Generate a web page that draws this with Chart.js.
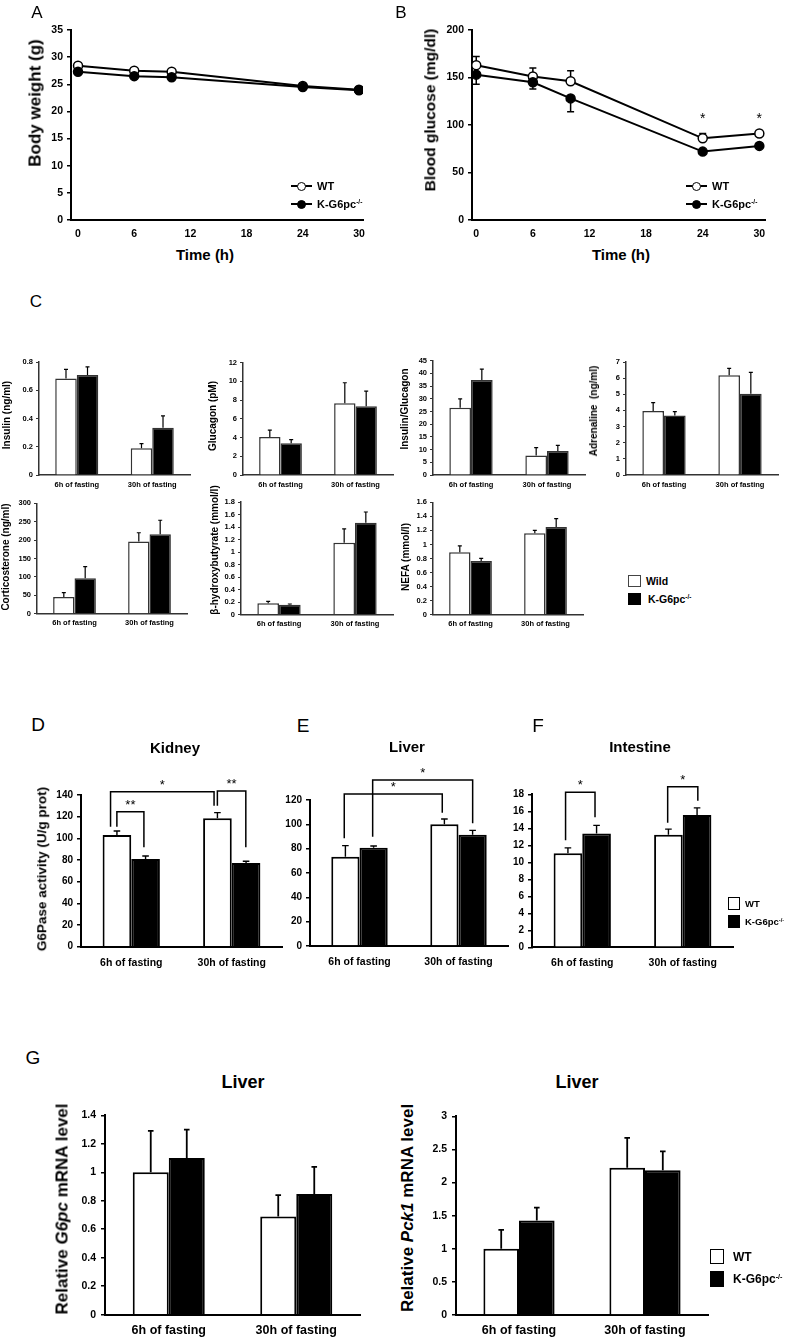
<!DOCTYPE html>
<html>
<head>
<meta charset="utf-8">
<title>K-G6pc fasting</title>
<script src="https://cdn.jsdelivr.net/npm/chart.js@4.4.1/dist/chart.umd.min.js"></script>
<style>
  body { margin:0; width:790px; height:1339px; position:relative; overflow:hidden; background:#fff;
         font-family:"Liberation Sans", Arial, Helvetica, sans-serif; color:#000; }
  canvas { position:absolute; }
  .lbl { position:absolute; white-space:nowrap; font-weight:bold; line-height:1; }
  .mid { transform:translate(-50%,-50%); }
  .rot { transform:translate(-50%,-50%) rotate(-90deg); }
  .left { transform:translate(0,-50%); }
  .letter { font-weight:normal; transform:translate(-50%,-50%); }
  .box { position:absolute; box-sizing:border-box; }
  sup { font-size:60%; vertical-align:0.55em; line-height:0; }
</style>
</head>
<body>
<script>
// Data ---------------------------------------------------------------

// A / B : time course
const hours = [0, 6, 10, 24, 30];
const timeTicks = [0, 6, 12, 18, 24, 30];
const weightTicks = [0, 5, 10, 15, 20, 25, 30, 35];
const wtWeight = [28.4, 27.5, 27.3, 24.7, 24.0];
const koWeight = [27.3, 26.5, 26.3, 24.5, 23.9];
const glucoseTicks = [0, 50, 100, 150, 200];
const wtGlucose = [163, 151, 146, 86, 91];
const wtGlucoseErr = [9, 9, 11, 5, 0];
const koGlucose = [153, 145, 128, 72, 78];
const koGlucoseErr = [10, 7, 14, 2, 2];
const glucoseStarHours = [24, 30];
const glucoseStarLevel = 110;

// C : plasma parameters
const fasting = ['6h of fasting', '30h of fasting'];
const insulinTicks = [0, 0.2, 0.4, 0.6, 0.8];
const wtInsulin = [0.684, 0.189], wtInsulinErr = [0.064, 0.033];
const koInsulin = [0.708, 0.335], koInsulinErr = [0.057, 0.083];
const glucagonTicks = [0, 2, 4, 6, 8, 10, 12];
const wtGlucagon = [4.06, 7.66], wtGlucagonErr = [0.74, 2.2];
const koGlucagon = [3.38, 7.34], koGlucagonErr = [0.39, 1.63];
const ratioTicks = [0, 5, 10, 15, 20, 25, 30, 35, 40, 45];
const wtRatio = [26.5, 7.7], wtRatioErr = [3.5, 3.1];
const koRatio = [37.4, 9.4], koRatioErr = [4.3, 2.3];
const adrenalineTicks = [0, 1, 2, 3, 4, 5, 6, 7];
const wtAdrenaline = [3.97, 6.18], wtAdrenalineErr = [0.51, 0.43];
const koAdrenaline = [3.68, 5.04], koAdrenalineErr = [0.25, 1.32];
const corticoTicks = [0, 50, 100, 150, 200, 250, 300];
const wtCortico = [45.5, 196], wtCorticoErr = [11.5, 24];
const koCortico = [96, 216], koCorticoErr = [32, 38];
const ohbTicks = [0, 0.2, 0.4, 0.6, 0.8, 1, 1.2, 1.4, 1.6, 1.8];
const wtOhb = [0.179, 1.15], wtOhbErr = [0.03, 0.22];
const koOhb = [0.157, 1.47], koOhbErr = [0.011, 0.17];
const nefaTicks = [0, 0.2, 0.4, 0.6, 0.8, 1, 1.2, 1.4, 1.6];
const wtNefa = [0.889, 1.159], wtNefaErr = [0.09, 0.041];
const koNefa = [0.765, 1.249], koNefaErr = [0.038, 0.118];

// D / E / F : G6Pase activity
const kidneyTicks = [0, 20, 40, 60, 80, 100, 120, 140];
const wtKidney = [103, 118.5], wtKidneyErr = [3.8, 5.2];
const koKidney = [81, 77.2], koKidneyErr = [2.7, 1.6];
const liverTicks = [0, 20, 40, 60, 80, 100, 120];
const wtLiver = [73.4, 100], wtLiverErr = [9.1, 4.4];
const koLiver = [80.8, 91.5], koLiverErr = [1.4, 3.5];
const intestineTicks = [0, 2, 4, 6, 8, 10, 12, 14, 16, 18];
const wtIntestine = [11.06, 13.25], wtIntestineErr = [0.64, 0.65];
const koIntestine = [13.4, 15.56], koIntestineErr = [0.95, 0.84];

// significance brackets (x in category units, y in axis units)
const kidneyBrackets = [
  {x1: -0.143, y1: 110.8, x2: 0.126, y2: 91.8, top: 124.6, label: '**'},
  {x1: -0.206, y1: 110.8, x2: 0.824, y2: 130, top: 143, label: '*'},
  {x1: 0.857, y1: 130, x2: 1.14, y2: 91.8, top: 143.7, label: '**'}
];
const liverBrackets = [
  {x1: -0.154, y1: 88.5, x2: 0.836, y2: 109.6, top: 125, label: '*'},
  {x1: 0.133, y1: 89.8, x2: 1.143, y2: 100.8, top: 136.4, label: '*'}
];
const intestineBrackets = [
  {x1: -0.166, y1: 12.6, x2: 0.127, y2: 15.3, top: 18.24, label: '*'},
  {x1: 0.85, y1: 14.66, x2: 1.15, y2: 17.25, top: 18.9, label: '*'}
];

// G : liver mRNA
const g6pcTicks = [0, 0.2, 0.4, 0.6, 0.8, 1, 1.2, 1.4];
const wtG6pc = [1.0, 0.69], wtG6pcErr = [0.29, 0.15];
const koG6pc = [1.10, 0.848], koG6pcErr = [0.20, 0.19];
const pck1Ticks = [0, 0.5, 1, 1.5, 2, 2.5, 3];
const wtPck1 = [1.0, 2.225], wtPck1Err = [0.285, 0.45];
const koPck1 = [1.425, 2.185], koPck1Err = [0.195, 0.285];

// Plugins ------------------------------------------------------------

function drawErrors(chart, o) {
  const ctx = chart.ctx, ys = chart.scales.y;
  ctx.save();
  ctx.strokeStyle = '#000';
  ctx.lineWidth = o.width;
  o.sets.forEach((errs, i) => {
    const vals = chart.data.datasets[i].data;
    const dir = o.dirs ? o.dirs[i] : 1;
    chart.getDatasetMeta(i).data.forEach((el, j) => {
      if (!errs[j]) return;
      const v = typeof vals[j] === 'object' ? vals[j].y : vals[j];
      const y0 = ys.getPixelForValue(v), y1 = ys.getPixelForValue(v + dir * errs[j]);
      ctx.beginPath();
      ctx.moveTo(el.x, y0); ctx.lineTo(el.x, y1);
      ctx.moveTo(el.x - o.cap, y1); ctx.lineTo(el.x + o.cap, y1);
      ctx.stroke();
    });
  });
  ctx.restore();
}

const errorBars = {
  id: 'errorBars',
  beforeDatasetsDraw(chart, args, o) { if (o.sets && o.behind) drawErrors(chart, o); },
  afterDatasetsDraw(chart, args, o) { if (o.sets && !o.behind) drawErrors(chart, o); }
};

const marks = {
  id: 'marks',
  afterDraw(chart, args, o) {
    const ctx = chart.ctx, xs = chart.scales.x, ys = chart.scales.y;
    ctx.save();
    ctx.strokeStyle = '#000'; ctx.fillStyle = '#000';
    ctx.lineWidth = o.width || 1.5;
    ctx.font = (o.size || 13) + 'px "Liberation Sans", Arial, sans-serif';
    ctx.textAlign = 'center'; ctx.textBaseline = 'alphabetic';
    (o.items || []).forEach(b => {
      const xa = xs.getPixelForValue(b.x1), xb = xs.getPixelForValue(b.x2);
      const yt = ys.getPixelForValue(b.top);
      ctx.beginPath();
      ctx.moveTo(xa, ys.getPixelForValue(b.y1)); ctx.lineTo(xa, yt);
      ctx.lineTo(xb, yt); ctx.lineTo(xb, ys.getPixelForValue(b.y2));
      ctx.stroke();
      ctx.fillText(b.label, (xa + xb) / 2, yt - (o.gap || 3));
    });
    (o.stars || []).forEach(s => {
      ctx.fillText('*', xs.getPixelForValue(s.x), ys.getPixelForValue(s.y) + 0.55 * (o.size || 13));
    });
    ctx.restore();
  }
};

Chart.register(errorBars, marks);
Chart.defaults.font.family = '"Liberation Sans", Arial, Helvetica, sans-serif';
Chart.defaults.font.weight = 'bold';
Chart.defaults.color = '#000';
Chart.defaults.animation = false;
Chart.defaults.events = [];
Chart.defaults.plugins.legend.display = false;
Chart.defaults.plugins.tooltip.enabled = false;

// Helpers ------------------------------------------------------------

// canvas placed so that the plot area lands on the box
function addCanvas(b, s) {
  const left = Math.round(b.x0 - s.yw), top = Math.round(b.yTop - s.pt);
  const c = document.createElement('canvas');
  c.width = Math.round(b.x1 + s.pr) - left;
  c.height = Math.round(b.yBot + s.xh) - top;
  c.style.left = left + 'px';
  c.style.top = top + 'px';
  document.body.appendChild(c);
  return {c, yw: b.x0 - left, pt: b.yTop - top, pr: left + c.width - b.x1, xh: top + c.height - b.yBot};
}

function yScale(ticks, s, g) {
  return {
    min: ticks[0], max: ticks[ticks.length - 1],
    afterBuildTicks: sc => { sc.ticks = ticks.map(v => ({value: v})); },
    afterFit: sc => { sc.width = g.yw; },
    ticks: {font: {size: s.tickFont}, padding: s.tpad, callback: v => String(v)},
    grid: {drawOnChartArea: false, drawTicks: true, tickLength: s.tl, color: s.axis, lineWidth: s.tickW},
    border: {display: true, color: s.axis, width: s.axisW}
  };
}

function xBottom(s, g) {
  return {
    afterFit: sc => { sc.height = g.xh; },
    ticks: {font: {size: s.catFont}, padding: s.xpad, maxRotation: 0, autoSkip: false},
    grid: {display: false, drawTicks: false},
    border: {display: true, color: s.axis, width: s.axisW}
  };
}

function makeLine(b, s, ticks, xMin, xMax, wt, ko, extra) {
  const g = addCanvas(b, s);
  const x = xBottom(s, g);
  Object.assign(x, {type: 'linear', min: xMin, max: xMax,
    afterBuildTicks: sc => { sc.ticks = timeTicks.map(v => ({value: v})); }});
  x.ticks.callback = v => String(v);
  const line = (vals, fill, order) => ({
    data: hours.map((h, i) => ({x: h, y: vals[i]})),
    borderColor: '#000', borderWidth: 2, tension: 0, order,
    pointRadius: 4.5, pointBorderWidth: 1.5, pointBorderColor: '#000', pointBackgroundColor: fill
  });
  new Chart(g.c, {
    type: 'line',
    data: {datasets: [line(wt, '#fff', 1), line(ko, '#000', 0)]},
    options: {
      responsive: false,
      layout: {padding: {top: g.pt, right: g.pr, left: 0, bottom: 0}},
      scales: {x, y: yScale(ticks, s, g)},
      plugins: extra || {}
    }
  });
}

function makeBar(b, s, ticks, wt, wtErr, ko, koErr, brackets) {
  const g = addCanvas(b, s);
  const bar = (vals, fill) => ({
    data: vals, backgroundColor: fill, borderColor: s.edge, borderWidth: s.bw,
    barPercentage: 1, categoryPercentage: s.catPct
  });
  new Chart(g.c, {
    type: 'bar',
    data: {labels: fasting, datasets: [bar(wt, '#fff'), bar(ko, '#000')]},
    options: {
      responsive: false,
      layout: {padding: {top: g.pt, right: g.pr, left: 0, bottom: 0}},
      scales: {x: xBottom(s, g), y: yScale(ticks, s, g)},
      plugins: {
        errorBars: {sets: [wtErr, koErr], cap: s.cap, width: s.errW},
        marks: {items: brackets || [], size: 13, gap: 3, width: 1.5}
      }
    }
  });
}

function put(html, x, y, size, cls) {
  const d = document.createElement('div');
  d.className = 'lbl ' + cls;
  d.style.left = x + 'px';
  d.style.top = y + 'px';
  d.style.fontSize = size + 'px';
  d.innerHTML = html;
  document.body.appendChild(d);
}

function rect(x, y, w, h, fill, edge, bw) {
  const d = document.createElement('div');
  d.className = 'box';
  Object.assign(d.style, {left: x + 'px', top: y + 'px', width: w + 'px', height: h + 'px',
    background: fill, border: bw ? bw + 'px solid ' + edge : 'none'});
  document.body.appendChild(d);
  return d;
}

function lineKey(x, y, fill, text) {
  rect(x, y - 1, 21, 2, '#000');
  const dot = rect(x + 6, y - 4.5, 9, 9, fill, '#000', 1.5);
  dot.style.borderRadius = '50%';
  put(text, x + 26, y, 11, 'left');
}

const KO = 'K-G6pc<sup>-/-</sup>';

// Styles and layout --------------------------------------------------

const styleAB = {tickFont: 10.5, catFont: 10.5, tl: 4, tpad: 4, xpad: 8, axis: '#000', axisW: 2, tickW: 1.5,
                 yw: 40, pt: 12, pr: 12, xh: 22};
const styleC = {tickFont: 7.5, catFont: 7.5, tl: 3, tpad: 3, xpad: 5, axis: '#333', axisW: 1.5, tickW: 1,
                edge: '#333', bw: 1.5, cap: 2, errW: 1.2, catPct: 0.57, yw: 30, pt: 8, pr: 6, xh: 16};
const styleD = {tickFont: 10, catFont: 10.5, tl: 4, tpad: 4, xpad: 10, axis: '#000', axisW: 2, tickW: 1.5,
                edge: '#000', bw: 2, cap: 3.3, errW: 1.4, catPct: 0.57, yw: 32, pt: 40, pr: 8, xh: 26};
const styleG = {tickFont: 10.5, catFont: 12.5, tl: 4, tpad: 5, xpad: 8.5, axis: '#000', axisW: 2, tickW: 1.5,
                edge: '#000', bw: 2, cap: 2.8, errW: 1.8, catPct: 0.565, yw: 36, pt: 10, pr: 8, xh: 24};

// A
makeLine({x0: 71, x1: 363, yTop: 30, yBot: 220}, styleAB, weightTicks, -0.75, 30.43, wtWeight, koWeight);
// B
makeLine({x0: 472, x1: 765, yTop: 30, yBot: 220}, styleAB, glucoseTicks, -0.45, 30.6, wtGlucose, koGlucose, {
  errorBars: {sets: [wtGlucoseErr, koGlucoseErr], dirs: [1, -1], cap: 3.5, width: 1.5, behind: true},
  marks: {stars: glucoseStarHours.map(h => ({x: h, y: glucoseStarLevel})), size: 14}
});

// C
makeBar({x0: 39, x1: 190, yTop: 362, yBot: 475}, styleC, insulinTicks, wtInsulin, wtInsulinErr, koInsulin, koInsulinErr);
makeBar({x0: 243, x1: 393, yTop: 362.7, yBot: 475}, styleC, glucagonTicks, wtGlucagon, wtGlucagonErr, koGlucagon, koGlucagonErr);
makeBar({x0: 433, x1: 585, yTop: 360.7, yBot: 475}, styleC, ratioTicks, wtRatio, wtRatioErr, koRatio, koRatioErr);
makeBar({x0: 626, x1: 778, yTop: 362, yBot: 475}, styleC, adrenalineTicks, wtAdrenaline, wtAdrenalineErr, koAdrenaline, koAdrenalineErr);
makeBar({x0: 37, x1: 187, yTop: 503.3, yBot: 613.7}, styleC, corticoTicks, wtCortico, wtCorticoErr, koCortico, koCorticoErr);
makeBar({x0: 241, x1: 393, yTop: 502, yBot: 614.5}, styleC, ohbTicks, wtOhb, wtOhbErr, koOhb, koOhbErr);
makeBar({x0: 433, x1: 583, yTop: 502.3, yBot: 614.8}, styleC, nefaTicks, wtNefa, wtNefaErr, koNefa, koNefaErr);

// D, E, F
makeBar({x0: 81, x1: 282, yTop: 795, yBot: 946.7}, styleD, kidneyTicks, wtKidney, wtKidneyErr, koKidney, koKidneyErr, kidneyBrackets);
makeBar({x0: 310, x1: 508, yTop: 800, yBot: 946}, styleD, liverTicks, wtLiver, wtLiverErr, koLiver, koLiverErr, liverBrackets);
makeBar({x0: 532, x1: 733, yTop: 794.3, yBot: 947.3}, styleD, intestineTicks, wtIntestine, wtIntestineErr, koIntestine, koIntestineErr, intestineBrackets);

// G
makeBar({x0: 105, x1: 360, yTop: 1114.3, yBot: 1314.7}, styleG, g6pcTicks, wtG6pc, wtG6pcErr, koG6pc, koG6pcErr);
makeBar({x0: 456, x1: 708, yTop: 1115, yBot: 1315}, styleG, pck1Ticks, wtPck1, wtPck1Err, koPck1, koPck1Err);

// Texts --------------------------------------------------------------

// panel letters
put('A', 37, 12, 17, 'letter');
put('B', 401, 12, 17, 'letter');
put('C', 36, 301, 17, 'letter');
put('D', 38, 724, 19, 'letter');
put('E', 303, 725, 19, 'letter');
put('F', 538, 725, 19, 'letter');
put('G', 33, 1057, 19, 'letter');

// A / B
put('Body weight (g)', 35, 103, 17, 'rot');
put('Time (h)', 205, 254, 15, 'mid');
put('Blood glucose (mg/dl)', 430, 110, 15.5, 'rot');
put('Time (h)', 621, 254, 15, 'mid');
lineKey(291, 186, '#fff', 'WT');
lineKey(291, 204, '#000', KO);
lineKey(686, 186, '#fff', 'WT');
lineKey(686, 204, '#000', KO);

// C
put('Insulin (ng/ml)', 7, 415, 10, 'rot');
put('Glucagon (pM)', 213, 416, 10, 'rot');
put('Insulin/Glucagon', 405, 409, 10, 'rot');
put('Adrenaline&nbsp; (ng/ml)', 594, 411, 10, 'rot');
put('Corticosterone (ng/ml)', 6, 557, 10, 'rot');
put('&beta;-hydroxybutyrate (mmol/l)', 215, 550, 10, 'rot');
put('NEFA (mmol/l)', 406, 557, 10, 'rot');
rect(628, 575, 13, 12, '#fff', '#444', 1);
rect(628, 593, 13, 12, '#000');
put('Wild', 646, 581, 10.5, 'left');
put(KO, 648, 599, 10.5, 'left');

// D / E / F
put('Kidney', 175, 747, 15, 'mid');
put('Liver', 407, 746, 15, 'mid');
put('Intestine', 640, 746, 15, 'mid');
put('G6Pase activity (U/g prot)', 42, 869, 13.5, 'rot');
rect(728, 897, 11.5, 13, '#fff', '#000', 1.2);
rect(728, 915, 11.5, 13, '#000');
put('WT', 745, 904, 9.5, 'left');
put(KO, 745, 921.5, 9.5, 'left');

// G
put('Liver', 243, 1082, 18, 'mid');
put('Liver', 577, 1082, 18, 'mid');
put('Relative <i>G6pc</i> mRNA level', 62, 1209, 17, 'rot');
put('Relative <i>Pck1</i> mRNA level', 407, 1208, 17, 'rot');
rect(710, 1249, 14, 15, '#fff', '#000', 1.5);
rect(710, 1271, 14, 16, '#000');
put('WT', 733, 1257, 12, 'left');
put(KO, 733, 1279, 12, 'left');
</script>
</body>
</html>
